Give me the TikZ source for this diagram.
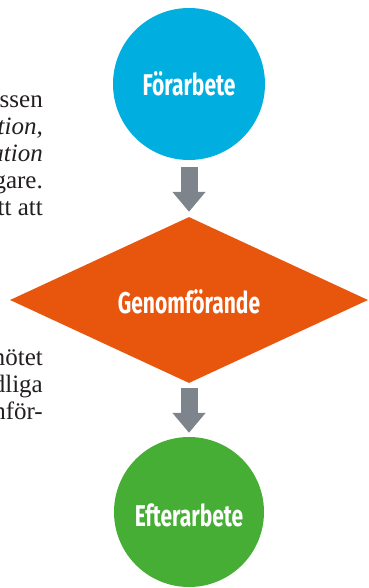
\documentclass[tikz,border=0pt]{standalone}
\usepackage{fontspec}
\setmainfont{Liberation Serif}
\newfontfamily\labfont[FakeStretch=0.7]{Fira Sans}
\usetikzlibrary{shapes.geometric,arrows.meta,calc}
\definecolor{cblue}{RGB}{0,174,223}
\definecolor{corange}{RGB}{232,86,14}
\definecolor{cgreen}{RGB}{70,173,53}
\definecolor{cgray}{RGB}{125,132,140}
\definecolor{ink}{RGB}{35,31,32}
\begin{document}
\begin{tikzpicture}[x=1pt,y=-1pt,
  blob/.style={circle,minimum size=152pt,inner sep=0pt},
  decision/.style={diamond,minimum width=358pt,minimum height=166pt,inner sep=0pt,fill=corange},
  lab/.style={text=white,font=\labfont\bfseries\fontsize{30}{30}\selectfont,anchor=base,inner sep=0pt},
  side/.style={anchor=base east,inner sep=0pt,text=ink,font=\fontsize{25}{27}\selectfont},
  flow/.style={draw=cgray,line width=17pt,-{Triangle[width=32pt,length=20pt]}}]
\useasboundingbox (0,0) rectangle (368,588);
\clip (0,0) rectangle (368,588);
% side text fragments
\node[side] (s1) at (43,107.5) {essen};
\node[side] (s2) at (43,135) {\itshape tion,};
\node[side] (s3) at (43,161.5) {\itshape ation};
\node[side] (s4) at (43,188) {gare.};
\node[side] (s5) at (43,215) {tt att};
\node[side] (s6) at (43,365) {mötet};
\node[side] (s7) at (43,392) {dliga};
\node[side] (s8) at (43,419) {nför-};
% shapes
\node[blob,fill=cblue] (pre) at (189,84) {};
\node[decision] (exe) at (189,300) {};
\node[blob,fill=cgreen,minimum size=150pt] (post) at (189,512) {};
% labels
\node[lab] (tpre) at ($(pre.center)+(0,12)$) {Förarbete};
\node[lab] (texe) at ($(exe.center)+(0,13)$) {Genomförande};
\node[lab] (tpost) at ($(post.center)+(0,14.7)$) {Efterarbete};
% arrows
\draw[flow,shorten <=7pt,shorten >=5pt] (pre.south) -- (exe.north);
\draw[flow,shorten <=5pt,shorten >=4pt] (exe.south) -- (post.north);
\end{tikzpicture}
\end{document}
